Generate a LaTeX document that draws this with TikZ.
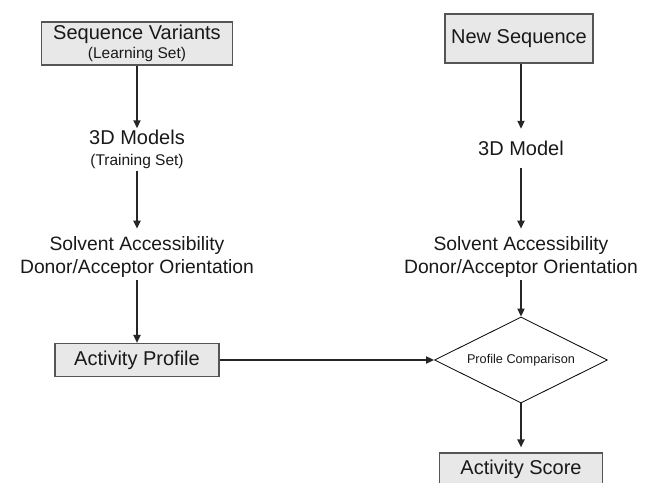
\documentclass[tikz,border=0pt]{standalone}
\usepackage{fontspec}
\setmainfont{Liberation Sans}
\usetikzlibrary{shapes.geometric,arrows.meta}
\definecolor{boxgray}{RGB}{232,232,232}
\definecolor{edgegray}{RGB}{85,85,85}
\newcommand{\smalltxt}[1]{{\fontsize{15.5}{18}\selectfont #1}}

\begin{document}
\begin{tikzpicture}[x=1pt,y=-1pt,every node/.append style={font=\fontsize{20}{23}\selectfont,
                    align=center,text=black!90},
    box/.style={draw=edgegray, line width=1.1pt, fill=boxgray, inner sep=0pt},
    flow/.style={-{Triangle[length=8pt,width=7pt]}, line width=1.8pt, draw=black!85}]
    \useasboundingbox (0,0) rectangle (648,482);
    % training side
    \node[box, minimum width=191pt, minimum height=43pt] (seqvar) at (137,43.5)
        {Sequence Variants\\[-3.5pt]\smalltxt{(Learning Set)}};
    \node[inner sep=2pt] (models) at (137,149.6) {3D Models\\[-2.5pt]\smalltxt{(Training Set)}};
    \node[inner sep=2pt, font=\fontsize{19.3}{23}\selectfont] (solvL) at (137,257.4)
        {Solvent Accessibility\\Donor/Acceptor Orientation};
    \node[box, minimum width=164pt, minimum height=33pt] (profile) at (137,360) {Activity Profile};
    % query side
    \node[box, minimum width=148pt, minimum height=49pt] (newseq) at (519,38.5) {New Sequence};
    \node[inner ysep=0pt, minimum height=39pt] (rmodel) at (521,148.5) {3D Model};
    \node[inner sep=2pt, font=\fontsize{19.3}{23}\selectfont] (solvR) at (521,257.4)
        {Solvent Accessibility\\Donor/Acceptor Orientation};
    \node[diamond, draw=black, line width=0.8pt, aspect=2, inner sep=0pt,
          minimum width=173pt, minimum height=86pt, font=\fontsize{12.7}{15}\selectfont]
          (compare) at (521,360) {Profile Comparison};
    \node[box, minimum width=163pt, minimum height=33pt] (score) at (521,469.5) {Activity Score};
    % connectors
    \draw[flow] (seqvar) -- (models);
    \draw[flow, shorten >=6pt] (models) -- (solvL);
    \draw[flow] (solvL) -- (profile);
    \draw[flow] (newseq.south -| rmodel) -- (rmodel);
    \draw[flow, shorten >=6pt] (rmodel) -- (solvR);
    \draw[flow] (solvR) -- (compare);
    \draw[flow] (profile) -- (compare);
    \draw[flow, shorten >=5pt] (compare) -- (score);
\end{tikzpicture}
\end{document}
